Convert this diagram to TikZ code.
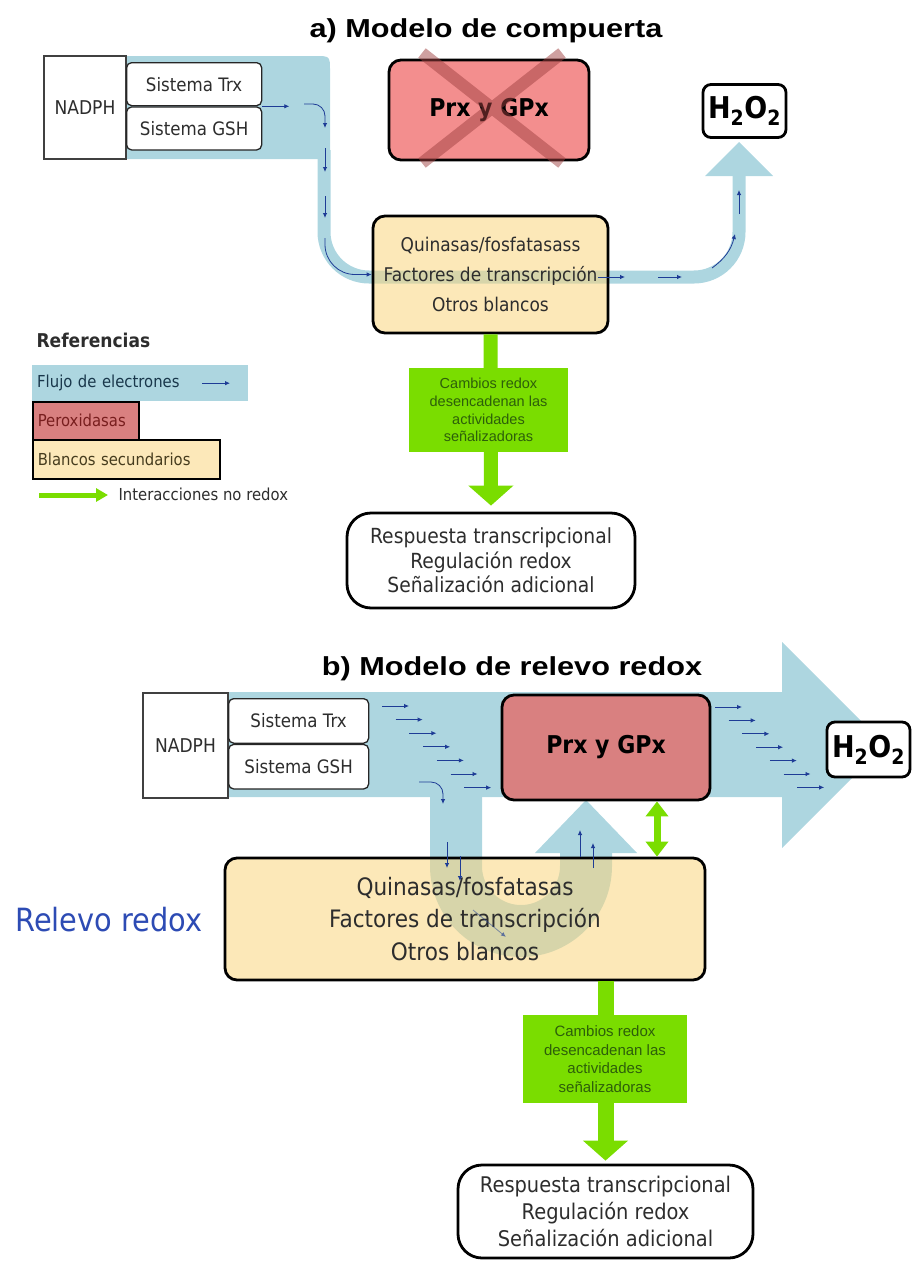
\documentclass[tikz,border=0pt]{standalone}
\usepackage{fontspec}
\setmainfont{DejaVu Sans}[FakeStretch=0.9]
\newfontfamily\titlefont{Liberation Sans}[FakeStretch=1.18]
\newfontfamily\greenfont{Liberation Sans}
\usetikzlibrary{arrows.meta, positioning, calc}

\definecolor{flujo}{RGB}{173,214,224}
\definecolor{prxA}{RGB}{243,142,142}
\definecolor{prxB}{RGB}{217,128,128}
\definecolor{prxX}{RGB}{160,65,65}
\definecolor{blanco}{RGB}{252,232,185}
\definecolor{blancoT}{RGB}{250,213,126}
\definecolor{verde}{RGB}{122,221,0}
\definecolor{verdeosc}{RGB}{45,95,10}
\definecolor{eflecha}{RGB}{30,60,150}
\definecolor{texto}{RGB}{45,45,45}
\definecolor{relevo}{RGB}{45,75,180}
\definecolor{leyflujo}{RGB}{25,55,75}
\definecolor{leyprx}{RGB}{120,30,30}
\definecolor{leyblanco}{RGB}{70,60,30}

\begin{document}
\begin{tikzpicture}[x=1pt, y=-1pt, line cap=butt,
  caja/.style={draw=black, line width=2.8pt, rounded corners=12pt, inner sep=0pt, align=center, text=texto},
  prx/.style={caja, minimum width=200pt, minimum height=100pt, font=\bfseries\fontsize{24.5}{26}\selectfont, text=black},
  hdos/.style={caja, fill=white, rounded corners=8pt, minimum width=83pt, minimum height=53pt, font=\bfseries\fontsize{30}{30}\selectfont, text=black},
  blancos/.style={caja, fill=blancoT, fill opacity=0.55, draw opacity=1, text opacity=1},
  respuesta/.style={caja, fill=white, rounded corners=24pt},
  nadph/.style={draw=black!75, line width=1.2pt, fill=white, minimum width=82pt, minimum height=103pt, inner sep=0pt, text=texto, font=\fontsize{19}{20}\selectfont},
  sistema/.style={draw=black!85, line width=1.3pt, rounded corners=5pt, fill=white, minimum width=135pt, minimum height=43pt, inner sep=0pt, text=texto, font=\fontsize{18.5}{20}\selectfont},
  cambio/.style={fill=verde, inner sep=0pt, align=center, text=verdeosc, font=\greenfont\fontsize{14.5}{17.8}\selectfont},
  eflujo/.style={eflecha, line width=0.8pt, -{Latex[length=5pt,width=4.5pt]}},
  verdeflecha/.style={verde, line width=14pt, -{Triangle[width=44pt,length=20pt]}},
  leyenda/.style={anchor=north west, inner xsep=5pt, inner ysep=0pt, align=left, font=\fontsize{16.5}{18}\selectfont}
]
  \useasboundingbox (0,0) rectangle (911,1261);

  % a) modelo de compuerta
  \node[anchor=base, font=\titlefont\bfseries\fontsize{26}{28}\selectfont] (tituloA) at (486,37) {a) Modelo de compuerta};

  \fill[flujo] (110,56) -- (315,56) .. controls (330,56) .. (330,71) -- (330,159) -- (110,159) -- cycle;
  \draw[flujo, line width=13pt, rounded corners=45pt] (324,150) -- (324,277) -- (739,277) -- (739,174);
  \fill[flujo] (705,176) -- (773,176) -- (739,142) -- cycle;

  \node[nadph] (nadphA) at (85,107.5) {NADPH};
  \node[sistema, anchor=north west] (trxA) at (126,62) {Sistema Trx};
  \node[sistema, below=0pt of trxA] (gshA) {Sistema GSH};

  \node[prx, fill=prxA] (prxA) at (489,110) {Prx y GPx};
  \begin{scope}[transparency group, opacity=0.5]
    \draw[prxX, line width=12pt] (422,53) -- (562,163) (562,53) -- (422,163);
  \end{scope}
  \node[hdos] (hA) at (744.5,111) {H\textsubscript{2}O\textsubscript{2}};

  \node[blancos, minimum width=235pt, minimum height=117pt, font=\fontsize{18.9}{30}\selectfont] (quinA) at (490.5,274.5)
    {Quinasas/fosfatasass\\Factores de transcripción\\Otros blancos};
  \node[respuesta, minimum width=288pt, minimum height=95pt, font=\fontsize{20.8}{24.5}\selectfont] (respA) at (491,560.5)
    {Respuesta transcripcional\\Regulación redox\\Señalización adicional};
  \draw[verdeflecha, shorten >=6pt] (quinA.south) -- (respA.north);
  \node[cambio, minimum width=159pt, minimum height=84pt] (cambioA) at (488.5,410)
    {Cambios redox\\desencadenan las\\actividades\\señalizadoras};

  \draw[eflujo] (trxA.south east) -- ++(27,0);
  \draw[eflujo, rounded corners=12pt] (304,104) -- (325,104) -- (325,128);
  \draw[eflujo] (325,148) -- (325,172);
  \draw[eflujo] (325,196) -- (325,218);
  \draw[eflujo, rounded corners=30pt] (325,238) |- (quinA.west);
  \draw[eflujo] (598,277) -- (625,277);
  \draw[eflujo] (658,277) -- (682,277);
  \draw[eflujo] (712,268) to[bend right=20] (735,234);
  \draw[eflujo] (739,214) -- (739,190);

  % referencias
  \node[anchor=base west, font=\bfseries\fontsize{19}{20}\selectfont, text=texto] (refs) at (33,347) {Referencias};
  \node[leyenda, fill=flujo, text width=206pt, minimum height=36pt, text=leyflujo] (leyFlujo) at (32,365) {Flujo de electrones};
  \draw[eflujo] ([xshift=170pt]leyFlujo.west) -- ++(28,0);
  \node[leyenda, fill=prxB, draw=black, line width=1.5pt, text width=96pt, minimum height=38pt, text=leyprx] (leyPrx) at (32,401) {Peroxidasas};
  \node[leyenda, fill=blanco, draw=black, line width=1.5pt, text width=177pt, minimum height=39pt, text=leyblanco] (leyBlanco) at (32,439) {Blancos secundarios};
  \coordinate (vIni) at (39,495);
  \coordinate (vFin) at (108,495);
  \draw[verde, line width=5pt, -{Triangle[width=13pt,length=12pt]}] (vIni) -- (vFin);
  \node[anchor=base west, font=\fontsize{16.5}{18}\selectfont, text=texto] (leyNoRedox) at (115,500) {Interacciones no redox};

  % b) modelo de relevo redox
  \node[anchor=base, font=\titlefont\bfseries\fontsize{26}{28}\selectfont] (tituloB) at (512,675) {b) Modelo de relevo redox};

  \fill[flujo] (200,692) -- (782,692) -- (782,642) -- (885,745) -- (782,848) -- (782,797) -- (200,797) -- cycle;
  \draw[flujo, line width=52pt, rounded corners=65pt] (456,790) -- (456,931) -- (586,931) -- (586,853);
  \fill[flujo] (535,853) -- (637,853) -- (586,800) -- cycle;

  \node[nadph, minimum width=85pt, minimum height=105pt] (nadphB) at (185.5,745.5) {NADPH};
  \node[sistema, minimum width=140pt, minimum height=44.5pt, anchor=north west] (trxB) at (228,698) {Sistema Trx};
  \node[sistema, minimum width=140pt, minimum height=44.5pt, below=0pt of trxB] (gshB) {Sistema GSH};
  \node[prx, fill=prxB, minimum width=208pt, minimum height=105pt] (prxB) at (606,747.5) {Prx y GPx};
  \node[hdos, minimum height=55pt] (hB) at (868.5,749.5) {H\textsubscript{2}O\textsubscript{2}};

  \node[blancos, minimum width=480pt, minimum height=122pt, font=\fontsize{24}{32.5}\selectfont] (quinB) at (465,919)
    {Quinasas/fosfatasas\\Factores de transcripción\\Otros blancos};
  \node[anchor=base west, text=relevo, font=\fontsize{32}{34}\selectfont] (relevo) at (12,931) {Relevo redox};

  \node[respuesta, minimum width=295pt, minimum height=93pt, font=\fontsize{21.6}{27}\selectfont] (respB) at (605.5,1211.5)
    {Respuesta transcripcional\\Regulación redox\\Señalización adicional};
  \draw[verdeflecha, line width=16pt, shorten >=3pt] (respB.north |- quinB.south) -- (respB.north);
  \node[cambio, minimum width=164pt, minimum height=88pt, font=\greenfont\fontsize{15}{18.7}\selectfont] (cambioB) at (605,1059)
    {Cambios redox\\desencadenan las\\actividades\\señalizadoras};
  \draw[verde, line width=7pt, {Triangle[width=22pt,length=15pt]}-{Triangle[width=22pt,length=15pt]}]
    ([xshift=51pt]prxB.south) -- ([xshift=51pt]prxB.south |- quinB.north);

  \foreach \i in {0,...,6}{
    \draw[eflujo] ({382+13.7*\i},{706+13.6*\i}) -- ++(27,0);
    \draw[eflujo] ({715+13.7*\i},{707+13.4*\i}) -- ++(27,0);
  }
  \draw[eflujo, rounded corners=12pt] (419,782) -- (443,782) -- (443,804);
  \draw[eflujo] (447,842) -- (447,868);
  \draw[eflujo] (460,856) -- (460,881);
  \draw[eflujo, opacity=0.5] (473,910) -- (506,937);
  \draw[eflujo] (580,857) -- (580,830);
  \draw[eflujo] (593,868) -- (593,843);
\end{tikzpicture}
\end{document}
